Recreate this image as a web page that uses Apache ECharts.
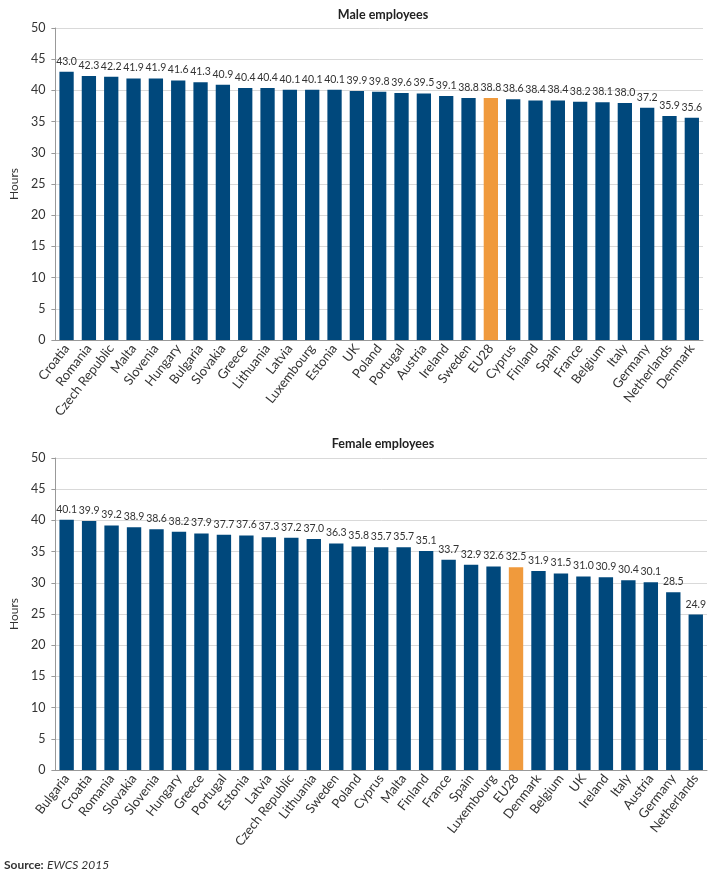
<!DOCTYPE html>
<html><head><meta charset="utf-8">
<script src="https://cdn.jsdelivr.net/npm/echarts@6/dist/echarts.min.js"></script>
<style>html,body{margin:0;padding:0;background:#fff}#c{width:708px;height:888px}</style>
</head><body><div id="c"></div>
<script>
const maleCountries = ["Croatia","Romania","Czech Republic","Malta","Slovenia","Hungary","Bulgaria","Slovakia","Greece","Lithuania","Latvia","Luxembourg","Estonia","UK","Poland","Portugal","Austria","Ireland","Sweden","EU28","Cyprus","Finland","Spain","France","Belgium","Italy","Germany","Netherlands","Denmark"];
const maleHours = [43.0,42.3,42.2,41.9,41.9,41.6,41.3,40.9,40.4,40.4,40.1,40.1,40.1,39.9,39.8,39.6,39.5,39.1,38.8,38.8,38.6,38.4,38.4,38.2,38.1,38.0,37.2,35.9,35.6];
const femaleCountries = ["Bulgaria","Croatia","Romania","Slovakia","Slovenia","Hungary","Greece","Portugal","Estonia","Latvia","Czech Republic","Lithuania","Sweden","Poland","Cyprus","Malta","Finland","France","Spain","Luxembourg","EU28","Denmark","Belgium","UK","Ireland","Italy","Austria","Germany","Netherlands"];
const femaleHours = [40.1,39.9,39.2,38.9,38.6,38.2,37.9,37.7,37.6,37.3,37.2,37.0,36.3,35.8,35.7,35.7,35.1,33.7,32.9,32.6,32.5,31.9,31.5,31.0,30.9,30.4,30.1,28.5,24.9];
const yTicks = [0,5,10,15,20,25,30,35,40,45,50];
const titles = ["Male employees","Female employees"];

const BLUE = "#00487c", ORANGE = "#f09a3c";
const FONT = "Lato, 'Noto Sans', sans-serif";
const chart = echarts.init(document.getElementById('c'));

function mkData(cats, vals){
  return vals.map((v,i)=>({value:v, itemStyle:{color: cats[i]==="EU28"?ORANGE:BLUE}}));
}
function xAxis(idx, cats){
  return {type:'category', gridIndex:idx, data:cats,
    axisLine:{lineStyle:{color:'#999'}},
    axisTick:{lineStyle:{color:'#999'}, length:4},
    axisLabel:{rotate:52, interval:0, fontSize:13, color:'#333', fontFamily:FONT, margin:6}};
}
function yAxis(idx){
  return {type:'value', gridIndex:idx, min:yTicks[0], max:yTicks[yTicks.length-1], interval:5,
    name:'Hours', nameLocation:'middle', nameGap:35, nameTextStyle:{fontSize:12,color:'#333',fontFamily:FONT},
    axisLine:{show:true, lineStyle:{color:'#999'}},
    axisTick:{show:true, length:4, lineStyle:{color:'#999'}},
    axisLabel:{fontSize:12.5, color:'#333', fontFamily:FONT, margin:10},
    splitLine:{lineStyle:{color:'#d9d9d9'}}};
}
function series(idx, cats, vals){
  return {type:'bar', xAxisIndex:idx, yAxisIndex:idx, data:mkData(cats, vals),
    barCategoryGap:'36%',
    label:{show:true, position:'top', distance:5, fontSize:10.5, color:'#333', fontFamily:FONT,
      formatter:p=>p.value.toFixed(1)}};
}
chart.setOption({
  animation:false,
  title:[
    {text:titles[0], left:378, top:3, textAlign:'center', textStyle:{fontSize:12.5, fontWeight:'bold', color:'#222', fontFamily:FONT}},
    {text:titles[1], left:378, top:432, textAlign:'center', textStyle:{fontSize:12.5, fontWeight:'bold', color:'#222', fontFamily:FONT}}
  ],
  grid:[
    {left:45, right:5, top:28, bottom:548},
    {left:48, right:1, top:458, bottom:118}
  ],
  xAxis:[xAxis(0, maleCountries), xAxis(1, femaleCountries)],
  yAxis:[yAxis(0), yAxis(1)],
  series:[series(0, maleCountries, maleHours), series(1, femaleCountries, femaleHours)],
  graphic:[{type:'text', left:4, top:859, style:{
    rich:{b:{fontWeight:'bold', fontSize:12, fill:'#333', fontFamily:FONT}, i:{fontStyle:'italic', fontSize:12, fill:'#333', fontFamily:FONT}},
    text:'{b|Source:} {i|EWCS 2015}'}}]
});
</script></body></html>
